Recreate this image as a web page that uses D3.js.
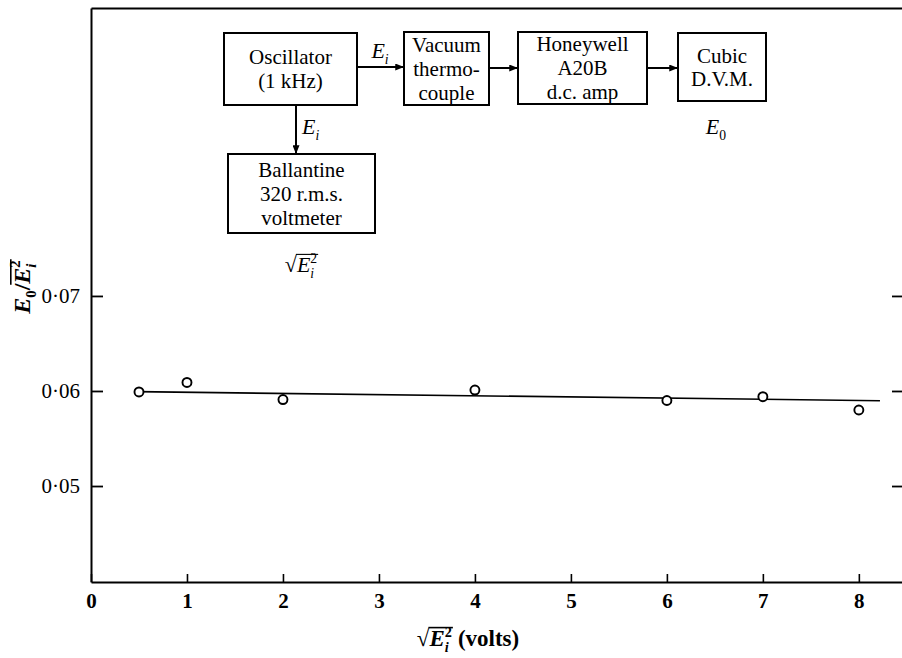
<!DOCTYPE html>
<html>
<head>
<meta charset="utf-8">
<script src="https://cdn.jsdelivr.net/npm/d3@7"></script>
<style>
  body { margin: 0; background: #fff; }
  svg { display: block; }
  svg text { font-family: "Liberation Serif", "DejaVu Serif", "Noto Serif", serif; }
</style>
</head>
<body>
<svg id="chart" width="902" height="658"></svg>
<script>
// Measured ratio E0 / mean(Ei^2) against r.m.s. input voltage
const xTicks = [0, 1, 2, 3, 4, 5, 6, 7, 8];
const yTicks = [0.05, 0.06, 0.07];
const xVals = [0.5, 1, 2, 4, 6, 7, 8];
const yVals = [0.0599, 0.0609, 0.0591, 0.0601, 0.0590, 0.0594, 0.0580];
// fitted straight line through the points
const fitX = [0.47, 8.22];
const fitY = [0.05993, 0.05898];

// block diagram text, one entry per box
const boxLabels = [
  ["Oscillator", "(1 kHz)"],
  ["Vacuum", "thermo-", "couple"],
  ["Honeywell", "A20B", "d.c. amp"],
  ["Cubic", "D.V.M."],
  ["Ballantine", "320 r.m.s.", "voltmeter"]
];

const serif = "Liberation Serif, DejaVu Serif, serif";
const svg = d3.select("#chart");

const x = d3.scaleLinear().domain([0, 8.46]).range([91, 903]);
const y = d3.scaleLinear().domain([0.0399, 0.1003]).range([582, 8]);

// bottom axis, ticks pointing inwards
const gx = svg.append("g").attr("transform", "translate(0,582)")
  .call(d3.axisBottom(x).tickValues(xTicks).tickSize(-8).tickSizeOuter(0)
    .tickPadding(11).tickFormat(d3.format("d")));
gx.attr("font-family", null);
gx.select(".domain").attr("stroke-width", 2);
gx.selectAll(".tick line").attr("stroke-width", 1.6);
gx.selectAll(".tick text").style("font-family", serif).attr("font-size", 21)
  .attr("font-weight", "bold");

// top frame line
svg.append("g").attr("transform", "translate(0,8)")
  .call(d3.axisTop(x).tickValues([]).tickSizeOuter(0))
  .select(".domain").attr("stroke-width", 2);

// left axis
const fmt = d => d3.format(".2f")(d).replace(".", "\u00B7");
const gy = svg.append("g").attr("transform", "translate(91,0)")
  .call(d3.axisLeft(y).tickValues(yTicks).tickSize(-12).tickSizeOuter(0)
    .tickPadding(11).tickFormat(fmt));
gy.attr("font-family", null);
gy.select(".domain").attr("stroke-width", 2);
gy.selectAll(".tick line").attr("stroke-width", 1.8);
gy.selectAll(".tick text").style("font-family", serif).attr("font-size", 21);

// right frame ticks
const gr = svg.append("g").attr("transform", "translate(903,0)")
  .call(d3.axisLeft(y).tickValues(yTicks).tickSize(11).tickSizeOuter(0).tickFormat(""));
gr.select(".domain").attr("stroke-width", 2);
gr.selectAll(".tick line").attr("stroke-width", 1.8);

// fitted line
svg.append("path")
  .datum(fitX.map((v, i) => [v, fitY[i]]))
  .attr("fill", "none").attr("stroke", "#000").attr("stroke-width", 1.6)
  .attr("d", d3.line().x(d => x(d[0])).y(d => y(d[1])));

// data points
svg.append("g").selectAll("circle")
  .data(xVals.map((v, i) => [v, yVals[i]]))
  .join("circle")
  .attr("cx", d => x(d[0])).attr("cy", d => y(d[1])).attr("r", 4.5)
  .attr("fill", "#fff").attr("stroke", "#000").attr("stroke-width", 1.9);

// text built from pieces: italics, sub/superscripts and overbars
function rich(parent, parts, px, py, size, opts = {}) {
  const anchor = opts.anchor || "middle";
  const weight = opts.weight || "normal";
  const g = parent.append("g");
  const inner = g.append("g");
  let cursor = 0, pending = 0, overMin = Infinity, overMax = -Infinity;
  parts.forEach(p => {
    if (p.gap) cursor += p.gap;
    const fs = p.shift ? size * 0.62 : size;
    const dy = p.shift === "sub" ? size * 0.26 : p.shift === "sup" ? -size * 0.4 : 0;
    const t = inner.append("text")
      .attr("x", cursor).attr("y", dy)
      .style("font-family", serif).attr("font-size", fs)
      .attr("font-style", p.i ? "italic" : "normal")
      .attr("font-weight", weight)
      .text(p.s);
    const w = t.node().getComputedTextLength();
    const adv = p.stack ? 0 : Math.max(w, pending);
    if (p.o) {
      overMin = Math.min(overMin, cursor);
      overMax = Math.max(overMax, cursor + Math.max(w, pending));
    }
    if (p.stack) pending = w; else { cursor += adv; pending = 0; }
  });
  if (overMax > overMin) {
    inner.append("line")
      .attr("x1", overMin - 1).attr("x2", overMax + 1)
      .attr("y1", -size * 0.8).attr("y2", -size * 0.8)
      .attr("stroke", "#000").attr("stroke-width", weight === "bold" ? 1.6 : 1.1);
  }
  const shiftX = anchor === "middle" ? -cursor / 2 : 0;
  inner.attr("transform", `translate(${shiftX},0)`);
  g.attr("transform", `translate(${px},${py})` + (opts.rotate ? ` rotate(${opts.rotate})` : ""));
  return g;
}

// axis titles
rich(svg, [
  { s: "\u221A" },
  { s: "E", i: 1, o: 1 },
  { s: "2", shift: "sup", stack: 1, o: 1 },
  { s: "i", i: 1, shift: "sub", o: 1 },
  { s: "(volts)", gap: 6 }
], 468, 646, 23, { weight: "bold" });

rich(svg, [
  { s: "E", i: 1 },
  { s: "0", shift: "sub" },
  { s: "/" },
  { s: "E", i: 1, o: 1 },
  { s: "2", shift: "sup", stack: 1, o: 1 },
  { s: "i", i: 1, shift: "sub", o: 1 }
], 30, 287, 24, { weight: "bold", rotate: -90 });

// block diagram
const boxGeom = [
  { x: 224, y: 33, w: 133, h: 72 },
  { x: 404, y: 32, w: 85, h: 73 },
  { x: 518, y: 32, w: 129, h: 72 },
  { x: 678, y: 33, w: 88, h: 68 },
  { x: 228, y: 154, w: 147, h: 79 }
];
const lineGap = [24, 24, 24, 23, 24];

const diag = svg.append("g");
diag.selectAll("rect").data(boxGeom).join("rect")
  .attr("x", d => d.x).attr("y", d => d.y).attr("width", d => d.w).attr("height", d => d.h)
  .attr("fill", "#fff").attr("stroke", "#000").attr("stroke-width", 2);

boxLabels.forEach((lines, bi) => {
  const b = boxGeom[bi];
  const cx = b.x + b.w / 2, cy = b.y + b.h / 2;
  diag.append("text")
    .style("font-family", serif).attr("font-size", 21).attr("text-anchor", "middle")
    .selectAll("tspan").data(lines).join("tspan")
    .attr("x", cx)
    .attr("y", (d, i) => cy + (i - (lines.length - 1) / 2) * lineGap[bi])
    .attr("dy", "0.35em")
    .text(d => d);
});

svg.append("defs").append("marker")
  .attr("id", "head").attr("viewBox", "0 0 10 8").attr("refX", 10).attr("refY", 4)
  .attr("markerWidth", 10).attr("markerHeight", 7).attr("markerUnits", "userSpaceOnUse")
  .attr("orient", "auto")
  .append("path").attr("d", "M0,0L10,4L0,8Z").attr("fill", "#000");

const arrows = [
  [[357, 67], [404, 67]],
  [[489, 68], [518, 68]],
  [[647, 68], [678, 68]],
  [[296, 105], [296, 154]]
];
diag.selectAll("line.arrow").data(arrows).join("line").attr("class", "arrow")
  .attr("x1", d => d[0][0]).attr("y1", d => d[0][1])
  .attr("x2", d => d[1][0]).attr("y2", d => d[1][1])
  .attr("stroke", "#000").attr("stroke-width", 2)
  .attr("marker-end", "url(#head)");

rich(diag, [{ s: "E", i: 1 }, { s: "i", i: 1, shift: "sub" }], 380, 58, 22);
rich(diag, [{ s: "E", i: 1 }, { s: "i", i: 1, shift: "sub" }], 302, 134, 22, { anchor: "start" });
rich(diag, [{ s: "E", i: 1 }, { s: "0", shift: "sub" }], 716, 134, 22);
rich(diag, [
  { s: "\u221A" },
  { s: "E", i: 1, o: 1 },
  { s: "2", shift: "sup", stack: 1, o: 1 },
  { s: "i", i: 1, shift: "sub", o: 1 }
], 301, 272, 22);
</script>
</body>
</html>
